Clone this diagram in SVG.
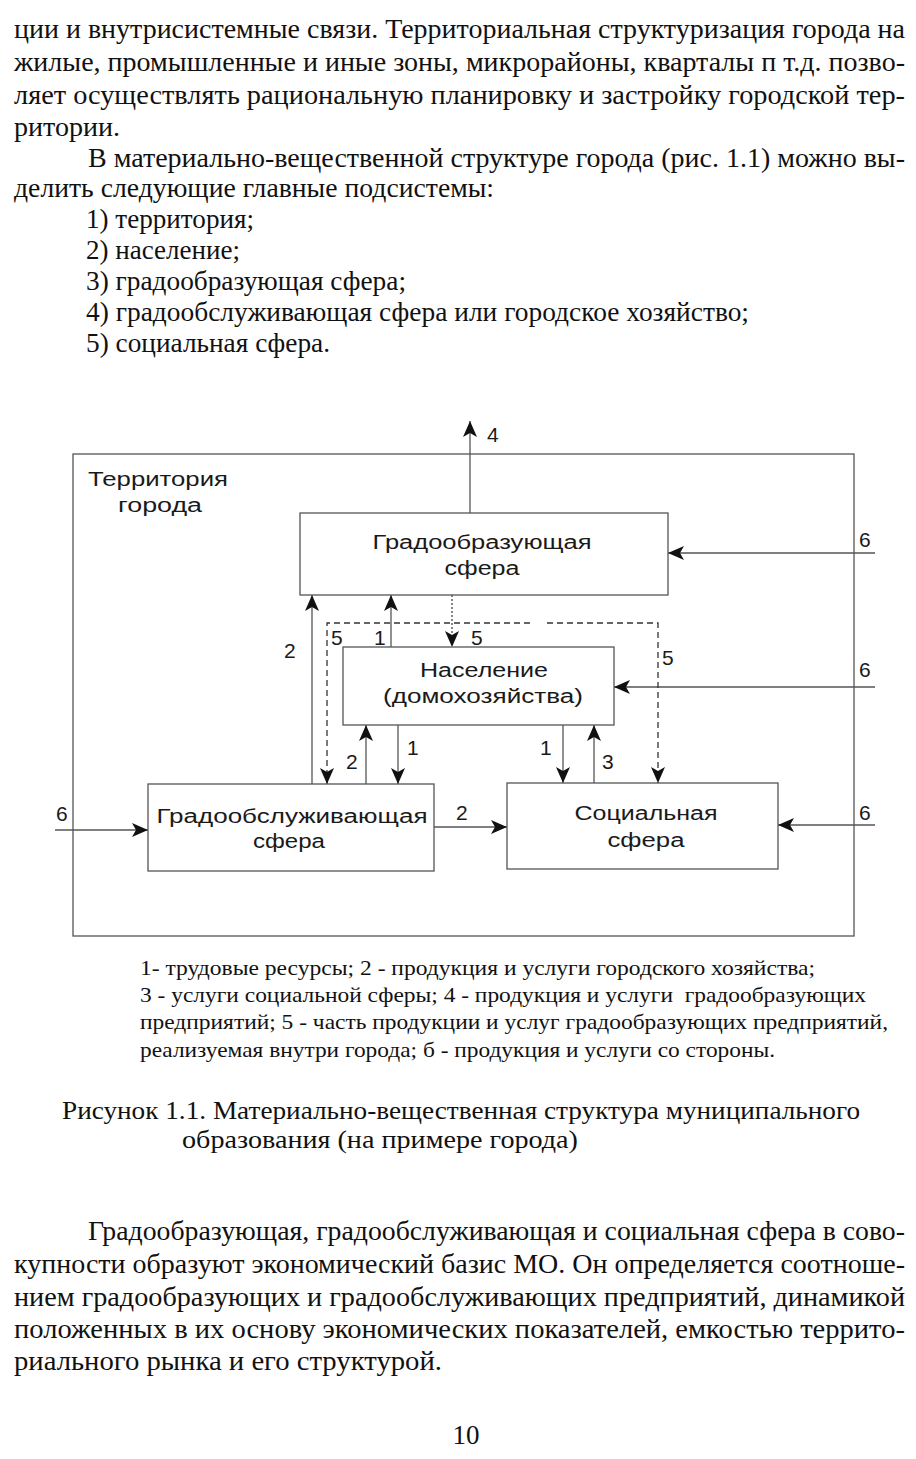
<svg xmlns="http://www.w3.org/2000/svg" width="916" height="1459" viewBox="0 0 916 1459">
<style>
.pg{font-family:"Liberation Serif","Times New Roman",serif;font-size:27px;fill:#111}
.lg{font-family:"Liberation Serif","Times New Roman",serif;font-size:22px;fill:#111}
.cp{font-family:"Liberation Serif","Times New Roman",serif;font-size:26px;fill:#111}
.bx{font-family:"Liberation Sans",Arial,sans-serif;font-size:20px;fill:#1a1a1a}
.nm{font-family:"Liberation Sans",Arial,sans-serif;font-size:21px;fill:#1a1a1a}
.box{fill:#fff;stroke:#555;stroke-width:1.3}
.ln{fill:none;stroke:#555;stroke-width:1.3}
.ds{fill:none;stroke:#333;stroke-width:1.3;stroke-dasharray:6 4}
.dt{fill:none;stroke:#444;stroke-width:1.3;stroke-dasharray:2 2}
</style>
<defs>
<marker id="ah" markerUnits="userSpaceOnUse" markerWidth="18" markerHeight="14" refX="16" refY="7" orient="auto">
<path d="M0,0 L16,7 L0,14 L4,7 z" fill="#111"/>
</marker>
</defs>
<rect width="916" height="1459" fill="#fff"/>

<g id="text-top">
<text class="pg" x="14" y="38" textLength="891" lengthAdjust="spacingAndGlyphs">ции и внутрисистемные связи. Территориальная структуризация города на</text>
<text class="pg" x="14" y="71" textLength="891" lengthAdjust="spacingAndGlyphs">жилые, промышленные и иные зоны, микрорайоны, кварталы п т.д. позво-</text>
<text class="pg" x="14" y="104" textLength="891" lengthAdjust="spacingAndGlyphs">ляет осуществлять рациональную планировку и застройку городской тер-</text>
<text class="pg" x="14" y="136" textLength="106" lengthAdjust="spacingAndGlyphs">ритории.</text>
<text class="pg" x="88" y="167" textLength="817" lengthAdjust="spacingAndGlyphs">В материально-вещественной структуре города (рис. 1.1) можно вы-</text>
<text class="pg" x="14" y="197" textLength="480" lengthAdjust="spacingAndGlyphs">делить следующие главные подсистемы:</text>
<text class="pg" x="86" y="228" textLength="168" lengthAdjust="spacingAndGlyphs">1) территория;</text>
<text class="pg" x="86" y="259" textLength="154" lengthAdjust="spacingAndGlyphs">2) население;</text>
<text class="pg" x="86" y="290" textLength="320" lengthAdjust="spacingAndGlyphs">3) градообразующая сфера;</text>
<text class="pg" x="86" y="321" textLength="663" lengthAdjust="spacingAndGlyphs">4) градообслуживающая сфера или городское хозяйство;</text>
<text class="pg" x="86" y="352" textLength="244" lengthAdjust="spacingAndGlyphs">5) социальная сфера.</text>
</g>

<g id="territory">
<rect x="73" y="454" width="781" height="482" fill="none" stroke="#555" stroke-width="1.3"/>
<text class="bx" x="88" y="486" textLength="140" lengthAdjust="spacingAndGlyphs">Территория</text>
<text class="bx" x="160" y="512" text-anchor="middle" textLength="84" lengthAdjust="spacingAndGlyphs">города</text>
</g>

<g id="connectors">
<line class="ln" x1="470" y1="513" x2="470" y2="421" marker-end="url(#ah)"/>
<line class="ln" x1="875" y1="553" x2="668" y2="553" marker-end="url(#ah)"/>
<line class="ln" x1="875" y1="687" x2="614" y2="687" marker-end="url(#ah)"/>
<line class="ln" x1="875" y1="825" x2="778" y2="825" marker-end="url(#ah)"/>
<line class="ln" x1="55" y1="830" x2="148" y2="830" marker-end="url(#ah)"/>
<line class="ln" x1="434" y1="827" x2="507" y2="827" marker-end="url(#ah)"/>
<line class="ln" x1="312" y1="784" x2="312" y2="595" marker-end="url(#ah)"/>
<line class="ln" x1="391" y1="647" x2="391" y2="595" marker-end="url(#ah)"/>
<line class="dt" x1="452" y1="595" x2="452" y2="647" marker-end="url(#ah)"/>
<line class="ln" x1="366" y1="784" x2="366" y2="725" marker-end="url(#ah)"/>
<line class="ln" x1="398" y1="725" x2="398" y2="784" marker-end="url(#ah)"/>
<line class="ln" x1="563" y1="725" x2="563" y2="783" marker-end="url(#ah)"/>
<line class="ln" x1="594" y1="783" x2="594" y2="725" marker-end="url(#ah)"/>
<path class="ds" d="M530,623 H327 V784" marker-end="url(#ah)"/>
<path class="ds" d="M547,623 H658 V783" marker-end="url(#ah)"/>
<text class="nm" x="487" y="442">4</text>
<text class="nm" x="859" y="547">6</text>
<text class="nm" x="859" y="677">6</text>
<text class="nm" x="859" y="820">6</text>
<text class="nm" x="56" y="821">6</text>
<text class="nm" x="284" y="658">2</text>
<text class="nm" x="331" y="645">5</text>
<text class="nm" x="374" y="645">1</text>
<text class="nm" x="471" y="645">5</text>
<text class="nm" x="662" y="665">5</text>
<text class="nm" x="346" y="769">2</text>
<text class="nm" x="407" y="755">1</text>
<text class="nm" x="540" y="755">1</text>
<text class="nm" x="602" y="769">3</text>
<text class="nm" x="456" y="820">2</text>
</g>

<g id="node-gradoobraz">
<rect class="box" x="300" y="513" width="368" height="82"/>
<text class="bx" x="482" y="549" text-anchor="middle" textLength="219" lengthAdjust="spacingAndGlyphs">Градообразующая</text>
<text class="bx" x="482" y="575" text-anchor="middle" textLength="75" lengthAdjust="spacingAndGlyphs">сфера</text>
</g>

<g id="node-naselenie">
<rect class="box" x="343" y="647" width="271" height="78"/>
<text class="bx" x="484" y="677" text-anchor="middle" textLength="128" lengthAdjust="spacingAndGlyphs">Население</text>
<text class="bx" x="483" y="703" text-anchor="middle" textLength="200" lengthAdjust="spacingAndGlyphs">(домохозяйства)</text>
</g>

<g id="node-gradoobsl">
<rect class="box" x="148" y="784" width="286" height="87"/>
<text class="bx" x="292" y="823" text-anchor="middle" textLength="271" lengthAdjust="spacingAndGlyphs">Градообслуживающая</text>
<text class="bx" x="289" y="848" text-anchor="middle" textLength="72" lengthAdjust="spacingAndGlyphs">сфера</text>
</g>

<g id="node-social">
<rect class="box" x="507" y="783" width="271" height="86"/>
<text class="bx" x="646" y="820" text-anchor="middle" textLength="143" lengthAdjust="spacingAndGlyphs">Социальная</text>
<text class="bx" x="646" y="847" text-anchor="middle" textLength="77" lengthAdjust="spacingAndGlyphs">сфера</text>
</g>

<g id="legend">
<text class="lg" x="140" y="975" textLength="675" lengthAdjust="spacingAndGlyphs">1- трудовые ресурсы; 2 - продукция и услуги городского хозяйства;</text>
<text class="lg" x="140" y="1002" textLength="726" lengthAdjust="spacingAndGlyphs" xml:space="preserve">3 - услуги социальной сферы; 4 - продукция и услуги  градообразующих</text>
<text class="lg" x="140" y="1029" textLength="748" lengthAdjust="spacingAndGlyphs">предприятий; 5 - часть продукции и услуг градообразующих предприятий,</text>
<text class="lg" x="140" y="1057" textLength="635" lengthAdjust="spacingAndGlyphs">реализуемая внутри города; б - продукция и услуги со стороны.</text>
</g>

<g id="caption">
<text class="cp" x="62" y="1119" textLength="798" lengthAdjust="spacingAndGlyphs">Рисунок 1.1. Материально-вещественная структура муниципального</text>
<text class="cp" x="182" y="1148" textLength="396" lengthAdjust="spacingAndGlyphs">образования (на примере города)</text>
</g>

<g id="text-bottom">
<text class="pg" x="88" y="1240" textLength="817" lengthAdjust="spacingAndGlyphs">Градообразующая, градообслуживающая и социальная сфера в сово-</text>
<text class="pg" x="14" y="1273" textLength="891" lengthAdjust="spacingAndGlyphs">купности образуют экономический базис МО. Он определяется соотноше-</text>
<text class="pg" x="14" y="1306" textLength="891" lengthAdjust="spacingAndGlyphs">нием градообразующих и градообслуживающих предприятий, динамикой</text>
<text class="pg" x="14" y="1338" textLength="891" lengthAdjust="spacingAndGlyphs">положенных в их основу экономических показателей, емкостью террито-</text>
<text class="pg" x="14" y="1370" textLength="428" lengthAdjust="spacingAndGlyphs">риального рынка и его структурой.</text>
<text class="pg" x="466" y="1444" text-anchor="middle">10</text>
</g>
</svg>
